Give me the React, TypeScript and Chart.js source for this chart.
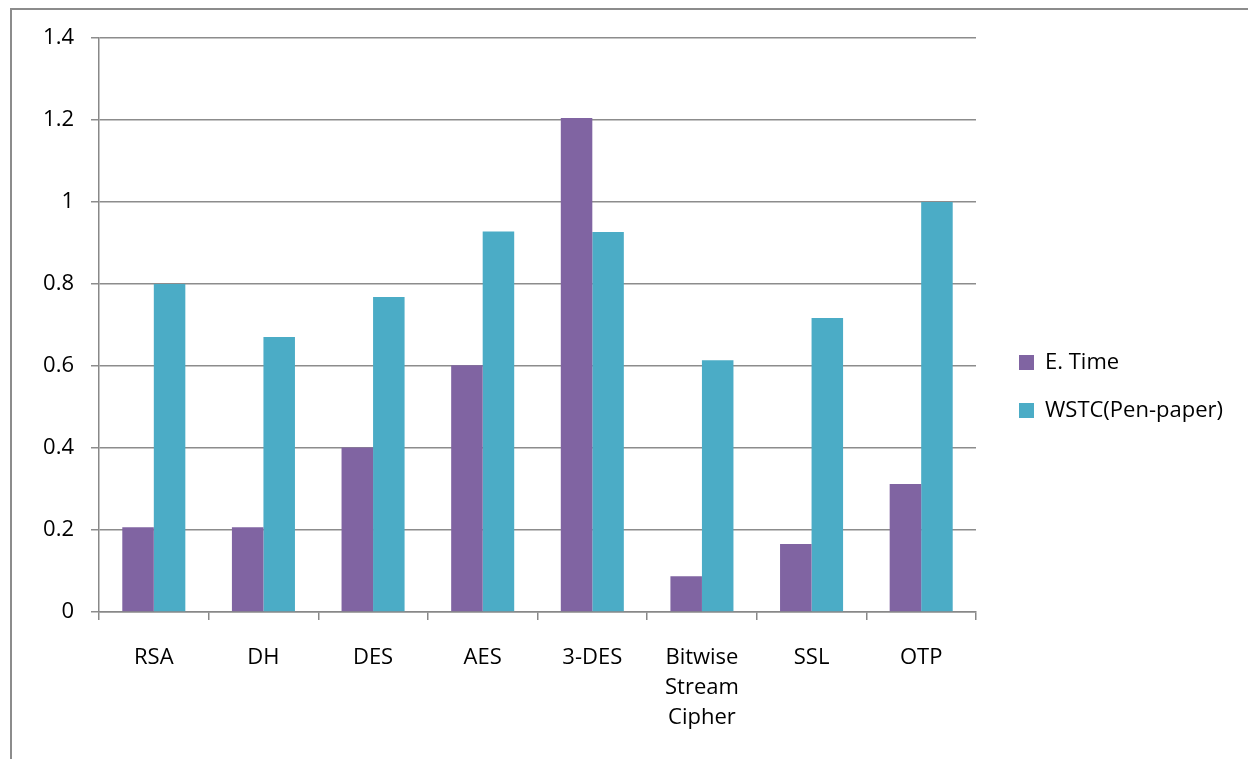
import React, { useEffect, useRef } from "react";
import { Chart, registerables } from "chart.js";

Chart.register(...registerables);

const categories: (string | string[])[] = ["RSA", "DH", "DES", "AES", "3-DES", ["Bitwise", "Stream", "Cipher"], "SSL", "OTP"];
const eTime = [0.207, 0.207, 0.401, 0.602, 1.205, 0.087, 0.166, 0.312];
const wstc = [0.8, 0.671, 0.768, 0.928, 0.927, 0.614, 0.717, 1.0];
const seriesNames = ["E. Time", "WSTC(Pen-paper)"];
const yMin = 0;
const yMax = 1.4;
const yStep = 0.2;

const FONT = "'Open Sans', sans-serif";
const FS = 22;

export default function App() {
  const ref = useRef<HTMLCanvasElement | null>(null);
  useEffect(() => {
    if (!ref.current) return;
    const legendFix = {
      id: "legendFix",
      beforeLayout(chart: any) {
        const lg = chart.legend;
        if (lg && !lg.__patched) {
          const orig = lg.fit;
          lg.fit = function (this: any) {
            orig.call(this);
            this.width = 272;
          };
          lg.__patched = true;
        }
      },
      afterLayout(chart: any) {
        const lg = chart.legend;
        if (lg) {
          lg.left += 17;
          lg.right += 17;
          lg.top -= 12;
          lg.bottom -= 12;
        }
      },
    };
    const chart = new Chart(ref.current, {
      type: "bar",
      data: {
        labels: categories,
        datasets: [
          { label: seriesNames[0], data: eTime, backgroundColor: "#8064A2", borderWidth: 0 },
          { label: seriesNames[1], data: wstc, backgroundColor: "#4BACC6", borderWidth: 0 },
        ],
      },
      options: {
        responsive: false,
        animation: false,
        layout: { padding: { left: 0, top: 38, right: 0, bottom: 0 } },
        datasets: { bar: { categoryPercentage: 0.575, barPercentage: 1 } },
        plugins: {
          legend: {
            position: "right",
            labels: {
              boxWidth: 15,
              boxHeight: 15,
              padding: 26,
              color: "#000",
              font: { family: FONT, size: FS },
            },
          },
          tooltip: { enabled: false },
        },
        scales: {
          x: {
            afterFit: (s: any) => { s.height = 147; },
            grid: { drawOnChartArea: false, drawTicks: true, tickLength: 8, color: "#888", lineWidth: 1.5, offset: true },
            border: { color: "#888", width: 1.5 },
            ticks: { color: "#000", padding: 23, font: { family: FONT, size: FS, lineHeight: 30 / FS }, maxRotation: 0, autoSkip: false },
          },
          y: {
            min: yMin,
            max: yMax,
            afterFit: (s: any) => { s.width = 99; },
            grid: { color: "#8c8c8c", lineWidth: 1.5, tickLength: 8, drawTicks: true },
            border: { color: "#888", width: 1.5 },
            ticks: {
              stepSize: yStep,
              color: "#000",
              padding: 17,
              font: { family: FONT, size: FS },
              callback: (v: any) => String(Number(Number(v).toFixed(1))),
            },
          },
        },
      },
      plugins: [legendFix],
    });
    return () => chart.destroy();
  }, []);
  return (
    <div style={{ position: "fixed", left: 0, top: 0, width: 1248, height: 759, background: "#fff", overflow: "hidden" }}>
      <div
        style={{
          position: "absolute",
          left: 10,
          top: 8,
          width: 1400,
          height: 900,
          borderLeft: "2px solid #8c8c8c",
          borderTop: "2px solid #8c8c8c",
        }}
      />
      <canvas ref={ref} width={1248} height={759} style={{ position: "absolute", left: 0, top: 0 }} />
    </div>
  );
}
